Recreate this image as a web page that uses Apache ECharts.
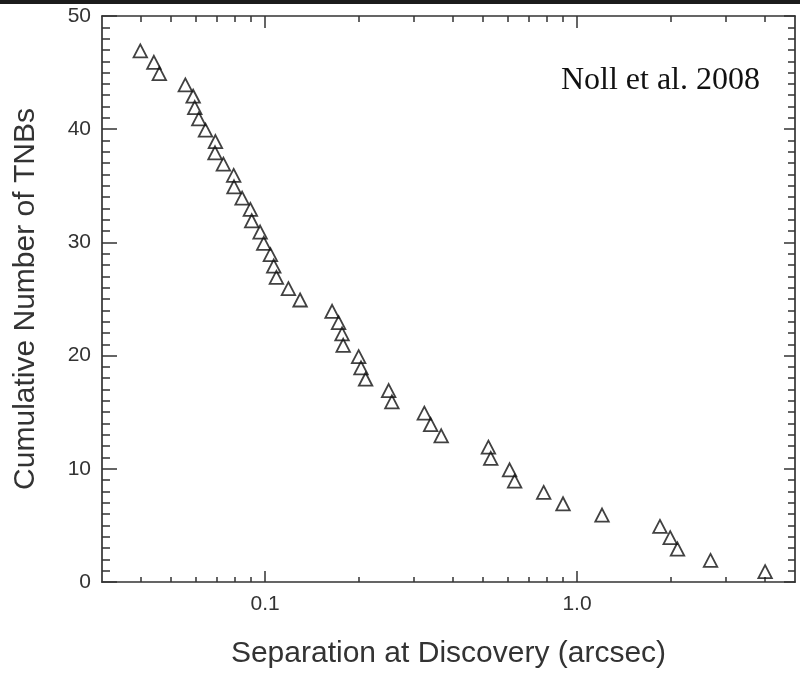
<!DOCTYPE html>
<html>
<head>
<meta charset="utf-8">
<script src="https://cdn.jsdelivr.net/npm/echarts@6/dist/echarts.min.js"></script>
<style>
  html, body { margin: 0; padding: 0; background: #ffffff; }
  #chart { width: 800px; height: 679px; }
</style>
</head>
<body>
<div id="chart"></div>
<script>
// Separation at discovery (arcsec) of each binary, widest count first
const separations = [
  0.0398, 0.0440, 0.0458, 0.0555, 0.0588, 0.0595, 0.0613, 0.0644, 0.0693, 0.0691,
  0.0735, 0.0793, 0.0795, 0.0844, 0.0897, 0.0906, 0.0964, 0.0990, 0.1040, 0.1066,
  0.1087, 0.1188, 0.1295, 0.164, 0.172, 0.1765, 0.178, 0.1995, 0.203, 0.210,
  0.249, 0.255, 0.324, 0.3395, 0.367, 0.520, 0.529, 0.608, 0.631, 0.782,
  0.902, 1.203, 1.845, 1.99, 2.10, 2.68, 4.01
];
// Cumulative number of TNBs at or beyond each separation
const cumulativeCounts = [
  47, 46, 45, 44, 43, 42, 41, 40, 39, 38,
  37, 36, 35, 34, 33, 32, 31, 30, 29, 28,
  27, 26, 25, 24, 23, 22, 21, 20, 19, 18,
  17, 16, 15, 14, 13, 12, 11, 10, 9, 8,
  7, 6, 5, 4, 3, 2, 1
];
const xMajorTicks = [0.1, 1];
const xMinorTicks = [0.04, 0.05, 0.06, 0.07, 0.08, 0.09,
                     0.2, 0.3, 0.4, 0.5, 0.6, 0.7, 0.8, 0.9,
                     2, 3, 4];
const xRange = [0.03, 5];
const yRange = [0, 50];
const yStep = 10;

const xTitle = 'Separation at Discovery (arcsec)';
const yTitle = 'Cumulative Number of TNBs';
const noteText = 'Noll et al. 2008';

const points = separations.map((s, i) => [s, cumulativeCounts[i]]);

const ink = '#333333';
const sans = '"Liberation Sans", Arial, Helvetica, sans-serif';
const frameLine = { show: true, onZero: false, lineStyle: { color: ink, width: 1.7 } };
const tickLine = { color: ink, width: 1.5 };

function logAxis(position, ticks, len, withLine, withLabels) {
  const ax = {
    type: 'log',
    logBase: 10,
    min: xRange[0],
    max: xRange[1],
    position: position,
    axisLine: withLine ? frameLine : { show: false, onZero: false },
    axisTick: { show: true, inside: true, length: len, customValues: ticks, lineStyle: tickLine },
    axisLabel: { show: false },
    splitLine: { show: false },
    minorTick: { show: false },
    minorSplitLine: { show: false }
  };
  if (withLabels) {
    ax.axisLabel = {
      show: true,
      customValues: ticks,
      formatter: v => Number(v).toFixed(1),
      fontSize: 21,
      fontFamily: sans,
      color: ink,
      margin: 12
    };
    ax.name = xTitle;
    ax.nameLocation = 'middle';
    ax.nameGap = 57;
    ax.nameTextStyle = { fontSize: 30, fontFamily: sans, color: ink };
  }
  return ax;
}

function valueAxis(position, major, minor, withLabels) {
  const ax = {
    type: 'value',
    min: yRange[0],
    max: yRange[1],
    interval: yStep,
    position: position,
    axisLine: frameLine,
    axisTick: { show: true, inside: true, length: major, lineStyle: tickLine },
    minorTick: { show: true, splitNumber: 10, length: minor, lineStyle: tickLine },
    axisLabel: { show: false },
    splitLine: { show: false },
    minorSplitLine: { show: false }
  };
  if (withLabels) {
    ax.axisLabel = { show: true, fontSize: 21, fontFamily: sans, color: ink, margin: 11 };
    ax.name = yTitle;
    ax.nameLocation = 'middle';
    ax.nameGap = 61;
    ax.nameRotate = 90;
    ax.nameTextStyle = { fontSize: 30, fontFamily: sans, color: ink };
  }
  return ax;
}

const chart = echarts.init(document.getElementById('chart'), null, { renderer: 'canvas' });

chart.setOption({
  animation: false,
  backgroundColor: '#ffffff',
  grid: { left: 102, right: 5, top: 16, bottom: 97, containLabel: false },
  xAxis: [
    logAxis('bottom', xMajorTicks, 11, true, true),
    logAxis('bottom', xMinorTicks, 5, false, false),
    logAxis('top', xMajorTicks, 12, true, false),
    logAxis('top', xMinorTicks, 6, false, false)
  ],
  yAxis: [
    valueAxis('left', 15, 8, true),
    valueAxis('right', 11, 7, false)
  ],
  series: [{
    type: 'scatter',
    xAxisIndex: 0,
    yAxisIndex: 0,
    data: points,
    symbol: 'triangle',
    symbolSize: [13.5, 13],
    symbolOffset: [0, 1],
    itemStyle: { color: 'rgba(255,255,255,0)', borderColor: '#111111', borderWidth: 1.8 },
    emphasis: { disabled: true }
  }],
  graphic: [
    {
      type: 'rect',
      left: 0,
      top: 0,
      shape: { width: 800, height: 4 },
      style: { fill: '#1c1c1c' },
      silent: true
    },
    {
      type: 'text',
      x: 760,
      y: 81,
      style: {
        text: noteText,
        fill: '#111111',
        font: '32px "Liberation Serif", "Times New Roman", serif',
        align: 'right',
        verticalAlign: 'middle'
      },
      silent: true
    }
  ]
});
</script>
</body>
</html>
